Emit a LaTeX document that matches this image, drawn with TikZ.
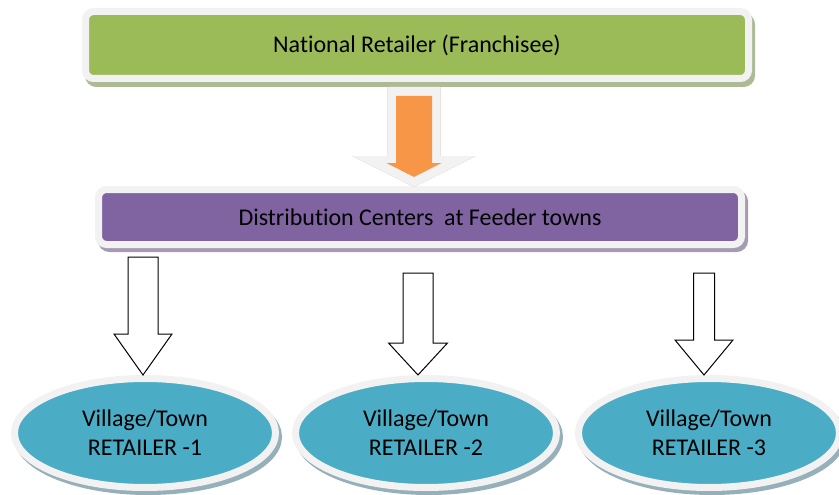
\documentclass[tikz,border=0pt]{standalone}
\usepackage{fontspec}
\setmainfont{Carlito}[Ligatures=NoCommon]
\usetikzlibrary{shapes.geometric,calc}
\definecolor{natgreen}{RGB}{155,187,89}
\definecolor{natshadow}{RGB}{172,186,150}
\definecolor{dcpurple}{RGB}{128,100,162}
\definecolor{dcshadow}{RGB}{165,155,178}
\definecolor{retteal}{RGB}{75,172,198}
\definecolor{retshadow}{RGB}{150,176,186}
\definecolor{rimgray}{RGB}{242,242,242}
\definecolor{arrorange}{RGB}{247,150,70}
\definecolor{arrshadow}{RGB}{214,166,128}
% block arrow pointing down: #2 top, #3 tip, #4 half shaft, #5 half head, #6 head length
\newcommand{\blockarrow}[6][]{%
  \path[#1] let \p1=(#2), \p2=(#3) in
    (\x1-#4pt,\y1) -- (\x1+#4pt,\y1) -- (\x1+#4pt,\y2+#6pt) -- (\x1+#5pt,\y2+#6pt)
    -- (\x1,\y2) -- (\x1-#5pt,\y2+#6pt) -- (\x1-#4pt,\y2+#6pt) -- cycle;
}
\tikzset{
  rimbox/.style  = {rectangle, rounded corners=8pt, draw=rimgray, line width=7pt,
                    inner sep=0pt, font=\fontsize{24}{28}\selectfont},
  natbox/.style  = {rimbox, fill=natgreen, minimum width=663, minimum height=67,
                    preaction={draw=natshadow, fill=natshadow,
                               transform canvas={shift={(3pt,-5pt)}}}},
  dcbox/.style   = {rimbox, fill=dcpurple, minimum width=643, minimum height=55,
                    preaction={draw=dcshadow, fill=dcshadow,
                               transform canvas={shift={(3pt,-4pt)}}}},
  retail/.style  = {ellipse, fill=retteal, draw=rimgray, line width=7pt,
                    minimum width=261, minimum height=109, inner sep=0pt,
                    align=center, font=\fontsize{24}{29}\selectfont,
                    preaction={draw=retshadow, fill=retshadow,
                               transform canvas={shift={(3pt,-4pt)}}}},
  hollow/.style  = {draw=black, fill=white, line width=1pt, line join=miter},
  rimarrow/.style = {fill=rimgray},
  inarrow/.style  = {fill=arrorange}
}

\begin{document}
\begin{tikzpicture}[x=1pt,y=-1pt]
\useasboundingbox (0,0) rectangle (839,495);

% -------------------- Boxes --------------------
\node[natbox] (natl) at (417,45) {National Retailer (Franchisee)};
\node[dcbox]  (dc)   at (420,217) {Distribution Centers\ \ at Feeder towns};

% -------------------- Retailers --------------------
\foreach \x/\k in {145/1, 426/2, 709/3}{
  \node[retail] (ret\k) at (\x,433) {Village/Town\\ RETAILER -\k};
}

% -------------------- Arrows --------------------

% orange arrow: shadow, rim, fill
\coordinate (otop) at (414,87);
\coordinate (otip) at (414,187);
\coordinate (itop) at (414,96);
\coordinate (itip) at (414,177);
\blockarrow[fill=arrshadow, shift={(3pt,-5pt)}]{otop}{otip}{26.5}{62}{31}
\blockarrow[rimarrow]{otop}{otip}{26.5}{62}{31}
\blockarrow[inarrow]{itop}{itip}{18}{27.5}{14}

% hollow arrows down to each retailer
\foreach \k/\x/\yy/\hs/\hh/\hl in {1/143/257/15/29/41, 2/418/273/15/29.5/32, 3/704/273/10.5/29/35}{
  \coordinate (arr\k) at (\x,\yy);
  \blockarrow[hollow]{arr\k}{ret\k.north}{\hs}{\hh}{\hl}
}

\end{tikzpicture}
\end{document}
